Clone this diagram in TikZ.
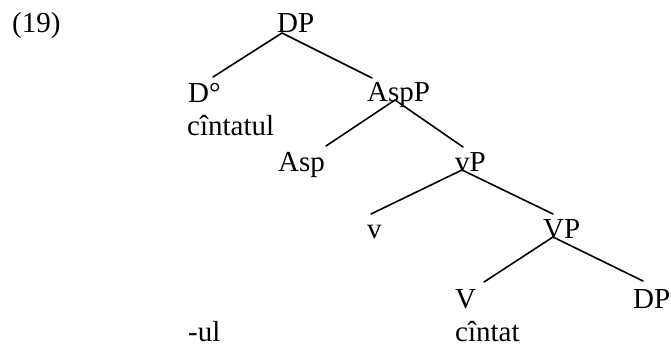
\documentclass[tikz,border=0pt]{standalone}
\usepackage{fontspec}
\setmainfont{Liberation Serif}
\usepackage{xcolor}
\usepackage{tikz}
\usetikzlibrary{positioning,calc}
\tikzset{
  lbl/.style={anchor=base west, inner sep=0pt, font=\fontsize{29}{34}\selectfont},
  branch/.style={line width=1.6pt, line cap=round}
}
\begin{document}
\begin{tikzpicture}[x=1pt, y=-1pt]
      \useasboundingbox (0, 0) rectangle (671, 345);
      \node (ex_num) [lbl] at (12, 33) {(19)};
      % labels of the tree
      \node (dp_top) [lbl] at (277, 33) {DP};
      \node (d_head) [lbl] at (188, 102) {D°};
      \node (asp_p) [lbl] at (367, 101) {AspP};
      \node (d_word) [lbl] at (187, 135) {cîntatul};
      \node (asp_head) [lbl] at (278, 171) {Asp};
      \node (little_vp) [lbl] at (455, 171) {vP};
      \node (little_v) [lbl] at (367, 238) {v};
      \node (vp) [lbl] at (543, 238) {VP};
      \node (v_head) [lbl] at (455, 308) {V};
      \node (dp_obj) [lbl] at (633, 308) {DP};
      \node (ul_word) [lbl] at (188, 341) {-ul};
      \node (v_word) [lbl] at (455, 341) {cîntat};
      % branches
      \draw [branch] ([shift={(5, 0)}]dp_top.base west) -- ([shift={(25, -25)}]d_head.base west);
      \draw [branch] ([shift={(5, 0)}]dp_top.base west) -- ([shift={(5, -23)}]asp_p.base west);
      \draw [branch] ([shift={(28, -1)}]asp_p.base west) -- ([shift={(48, -25)}]asp_head.base west);
      \draw [branch] ([shift={(28, -1)}]asp_p.base west) -- ([shift={(8, -24)}]little_vp.base west);
      \draw [branch] ([shift={(7, -1)}]little_vp.base west) -- ([shift={(4, -24)}]little_v.base west);
      \draw [branch] ([shift={(7, -1)}]little_vp.base west) -- ([shift={(10, -24)}]vp.base west);
      \draw [branch] ([shift={(10, -1)}]vp.base west) -- ([shift={(29, -26)}]v_head.base west);
      \draw [branch] ([shift={(10, -1)}]vp.base west) -- ([shift={(10, -27)}]dp_obj.base west);
    \end{tikzpicture}
\end{document}
